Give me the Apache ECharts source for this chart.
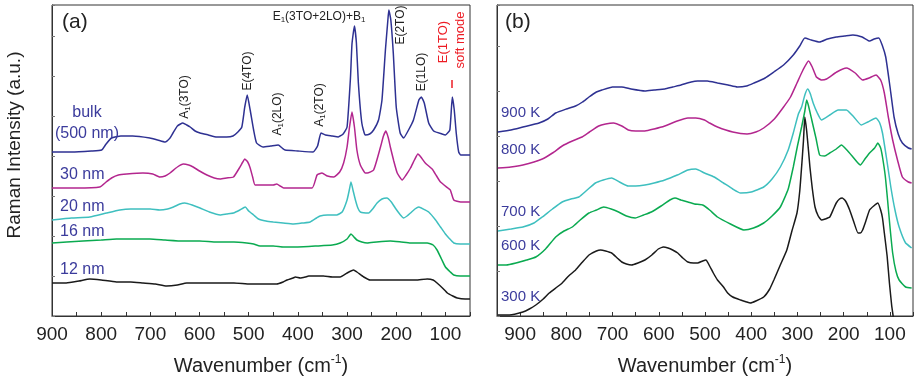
<!DOCTYPE html>
<html><head><meta charset="utf-8">
<script src="https://cdn.jsdelivr.net/npm/echarts@6/dist/echarts.min.js"></script>
<style>html,body{margin:0;padding:0;background:#fff}#c{width:916px;height:384px}</style>
</head><body><div id="c"></div>
<script>
// ---------- Panel (a): size dependence (wavenumber cm-1, offset intensity) ----------
const bulkX = [900,860,820,799,790,779,760,736,701,685,670,660,654,645,634,626,619,609,599,582,565,545,532,522,514,508,503,497,490,484,471,455,440,432,426,400,369,360,353,344,330,318,308,300,293,290,285,281,277,270,263,254,246,236,229,222,217,215,211,206,200,192,185,175,165,154,149,143,134,124,107,100,91,86,82,78,73,69,50];
const bulkY = [164,164,165,166,172,178,180,180,178,176,174,178,183,190,193,191,189,185,183,181,179,179,180,184,189,209,221,206,186,173,169,170,171,168,166,165,164,170,183,181,180,179,182,189,239,272,290,273,233,193,181,182,186,196,216,266,296,306,296,263,209,183,178,186,196,216,219,213,193,185,182,181,186,219,206,183,164,161,161];
const nm30X = [900,850,803,790,779,765,748,715,695,681,670,660,645,633,622,613,600,585,570,558,545,531,519,512,508,502,497,492,487,463,450,443,436,429,371,361,351,340,327,315,307,300,295,290,285,280,273,263,259,246,232,226,221,216,212,205,198,188,180,171,163,156,150,141,127,118,110,95,90,83,69,50];
const nm30Y = [128,128,129,134,138,141,142,143,142,139,140,143,149,152,151,149,145,141,138,137,138,139,148,154,157,154,148,139,131,131,131,132,130,128,128,141,143,140,139,144,153,169,189,204,189,166,151,143,143,146,169,180,185,178,169,155,143,136,141,148,156,162,159,153,147,140,134,128,126,116,114,114];
const nm20X = [900,860,823,789,762,740,721,700,681,665,653,640,630,615,599,580,558,545,531,518,507,500,490,480,465,450,430,409,390,375,362,355,340,321,310,300,295,292,288,283,278,273,256,248,239,229,219,210,202,193,185,178,171,162,154,145,134,120,110,100,93,83,70,50];
const nm20Y = [96,98,99,103,106,107,107,107,106,107,109,112,113,111,108,104,101,102,103,106,109,105,101,97,95,94,93,92,93,94,98,100,101,101,104,116,127,134,126,116,108,104,103,107,113,117,118,114,108,102,98,100,103,107,109,107,104,96,89,82,78,73,72,72];
const nm16X = [900,870,837,800,769,735,701,670,633,600,565,530,504,490,477,450,429,400,361,330,314,300,292,286,280,270,259,240,212,190,171,150,137,125,117,108,100,90,83,70,50];
const nm16Y = [73,74,75,76,77,77,77,76,75,75,74,74,73,72,70,70,69,69,70,71,73,77,82,79,76,74,73,74,75,74,73,73,73,71,66,57,49,44,41,40,40];
const nm12X = [900,871,845,823,800,769,740,715,690,667,645,626,600,565,530,497,460,443,430,422,410,405,395,385,378,365,348,330,314,300,287,280,266,253,230,192,160,137,125,117,106,96,85,76,60,50];
const nm12Y = [33,33,35,37,36,34,34,33,32,30,31,33,33,33,33,32,32,32,34,36,38,39,38,39,40,40,40,39,39,43,46,44,39,36,36,36,36,37,36,33,28,23,20,18,17,17];

// ---------- Panel (b): temperature dependence ----------
const k900X = [948,920,894,859,840,823,800,780,765,751,735,723,700,680,660,630,610,587,570,552,530,516,495,473,450,430,410,394,370,351,330,309,295,284,270,252,235,216,198,180,160,144,134,124,116,109,100,91,82,73,60,53];
const k900Y = [184,186,189,193,197,203,207,210,214,219,224,226,229,229,227,225,226,227,229,231,234,235,235,233,231,229,230,233,238,244,251,261,270,278,276,274,277,279,280,281,279,275,277,278,270,259,230,199,182,173,168,167];
const k800X = [948,920,894,852,830,809,787,766,750,730,715,698,680,666,650,630,610,587,560,537,520,501,490,473,440,409,390,373,350,330,315,301,288,276,268,259,248,237,215,194,175,159,145,130,120,112,103,94,83,73,60,53];
const k800Y = [148,149,151,157,163,170,175,179,184,190,192,193,190,186,185,185,187,190,195,198,198,196,193,189,184,182,184,188,197,209,219,233,246,255,249,239,236,237,244,248,243,236,238,241,236,223,198,176,155,139,134,133];
const k700X = [948,920,894,870,852,830,809,790,773,755,737,720,702,685,666,650,630,610,587,560,537,520,501,480,460,440,423,400,373,355,337,320,309,298,291,284,278,272,266,257,248,230,212,194,178,162,148,130,122,116,107,98,89,80,66,53];
const k700Y = [85,87,89,93,99,107,114,117,119,126,133,136,138,134,130,130,131,133,136,141,146,147,143,139,133,127,123,124,129,137,149,166,183,202,209,221,227,222,213,203,196,201,206,206,199,191,194,198,193,183,157,129,106,89,73,68];
const k600X = [948,930,909,886,866,845,823,805,787,770,751,735,719,703,687,670,651,633,616,595,576,565,552,537,523,505,490,473,445,416,395,373,355,337,320,309,300,291,284,280,276,269,260,252,241,230,216,205,193,180,171,164,154,144,133,126,120,116,110,105,100,94,87,80,66,53];
const k600Y = [51,51,53,56,59,67,79,85,89,96,103,106,109,107,104,100,98,101,104,110,116,118,116,114,112,111,106,99,92,86,88,93,100,109,127,149,170,189,205,216,210,196,178,161,160,163,167,171,166,159,154,151,157,163,168,173,168,159,140,116,90,63,45,36,29,28];
const k300X = [948,923,894,880,866,850,837,820,809,795,780,765,751,735,726,715,702,690,680,670,659,645,630,615,601,590,580,570,559,548,537,525,516,505,498,490,482,473,460,451,440,423,410,402,390,373,360,351,338,323,312,301,295,291,287,284,280,276,273,268,262,255,248,240,230,222,216,209,203,196,187,178,169,164,159,152,144,135,126,120,116,112,106,101,96,93,90];
const k300Y = [1,1,4,7,11,17,23,29,33,40,46,54,61,65,66,65,63,58,54,52,51,53,56,61,67,69,68,66,63,58,54,53,53,55,56,50,43,36,29,23,19,16,14,13,15,19,27,36,50,66,85,103,125,149,175,199,185,165,149,128,109,100,96,97,99,107,113,117,118,115,106,94,83,83,86,95,106,110,113,106,98,83,60,33,10,0,-15];

const xTicksA = [900,800,700,600,500,400,300,200,100];
const xTicksB = [900,800,700,600,500,400,300,200,100];
const labelsA = ['bulk','(500 nm)','30 nm','20 nm','16 nm','12 nm'];
const labelsB = ['900 K','800 K','700 K','600 K','300 K'];

const C = {blue:'#2e3192', mag:'#b3268e', cyan:'#3ebfbf', green:'#0aaa50', black:'#1a1a1a'};
const FONT = 'Liberation Sans, Arial, sans-serif';
const zip = (xs, ys) => xs.map((x, i) => [x, ys[i]]);

function line(name, xs, ys, color, idx) {
  return {name, type:'line', xAxisIndex:idx, yAxisIndex:idx, data:zip(xs, ys),
    showSymbol:false, smooth:0.15, lineStyle:{color, width:1.5}, itemStyle:{color},
    silent:true, animation:false, clip:true, z:3};
}

function xAxis(idx, min, max, ticks) {
  return {type:'value', gridIndex:idx, inverse:true, min, max, interval:50,
    axisLine:{show:true, onZero:false, lineStyle:{color:'#333', width:1}},
    axisTick:{show:true, inside:true, length:4, lineStyle:{color:'#333'}},
    axisLabel:{show:true, margin:9, fontSize:19, color:'#222', fontFamily:FONT,
      formatter: v => ticks.includes(v) ? String(v) : ''},
    splitLine:{show:false},
    name:'Wavenumber (cm{sup|-1})', nameLocation:'middle', nameGap:38,
    nameTextStyle:{fontSize:20, color:'#222', fontFamily:FONT, lineHeight:24,
      rich:{sup:{fontSize:12, lineHeight:12, verticalAlign:'top', color:'#222', fontFamily:FONT}}}};
}
function yAxis(idx, interval) {
  return {type:'value', gridIndex:idx, min:0, max:311, interval,
    axisLine:{show:true, lineStyle:{color:'#333', width:1}},
    axisTick:{show:true, inside:true, length:3, lineStyle:{color:'#777'}},
    axisLabel:{show:false}, splitLine:{show:false}};
}

function rot(x, y, text, color, size) {
  return {type:'text', x, y, rotation:Math.PI/2, z:10,
    style:{text, fill:color||'#222', font:(size||12)+'px '+FONT, textAlign:'center', textVerticalAlign:'middle',
      rich:{n:{fontSize:size||12, lineHeight:14, fontFamily:FONT, fill:color||'#222'},
            s:{fontSize:8, lineHeight:8, verticalAlign:'bottom', fontFamily:FONT, fill:color||'#222'}}}};
}
function txt(x, y, text, size, color, align) {
  return {type:'text', x, y, z:10, style:{text, fill:color||'#3b3b9c', font:size+'px '+FONT,
    textAlign:align||'left', textVerticalAlign:'middle'}};
}

const LBL = '#3b3b9c';
const option = {
  backgroundColor:'#fff', animation:false,
  grid:[
    {left:52, top:5, width:418, height:311, show:true, borderColor:'#333', borderWidth:1, containLabel:false},
    {left:497, top:5, width:420, height:311, show:true, borderColor:'#333', borderWidth:1, containLabel:false}
  ],
  xAxis:[xAxis(0, 50, 900, xTicksA), xAxis(1, 50, 950, xTicksB)],
  yAxis:[yAxis(0, 40), yAxis(1, 45)],
  series:[
    line('bulk', bulkX, bulkY, C.blue, 0),
    line('30 nm', nm30X, nm30Y, C.mag, 0),
    line('20 nm', nm20X, nm20Y, C.cyan, 0),
    line('16 nm', nm16X, nm16Y, C.green, 0),
    line('12 nm', nm12X, nm12Y, C.black, 0),
    line('900 K', k900X, k900Y, C.blue, 1),
    line('800 K', k800X, k800Y, C.mag, 1),
    line('700 K', k700X, k700Y, C.cyan, 1),
    line('600 K', k600X, k600Y, C.green, 1),
    line('300 K', k300X, k300Y, C.black, 1)
  ],
  graphic:[
    {type:'text', x:15, y:145, rotation:Math.PI/2, z:10,
      style:{text:'Raman Intensity (a.u.)', fill:'#222', font:'19px '+FONT, textAlign:'center', textVerticalAlign:'middle'}},
    txt(62, 22, '(a)', 21, '#222'),
    txt(505, 22, '(b)', 21, '#222'),
    txt(87, 113, labelsA[0], 16, LBL, 'center'),
    txt(87, 134, labelsA[1], 16, LBL, 'center'),
    txt(60, 175, labelsA[2], 16, LBL),
    txt(60, 207, labelsA[3], 16, LBL),
    txt(60, 232, labelsA[4], 16, LBL),
    txt(60, 270, labelsA[5], 16, LBL),
    txt(501, 113, labelsB[0], 15, LBL),
    txt(501, 150, labelsB[1], 15, LBL),
    txt(501, 212, labelsB[2], 15, LBL),
    txt(501, 246, labelsB[3], 15, LBL),
    txt(501, 297, labelsB[4], 15, LBL),
    rot(185, 97, '{n|A}{s|1}{n|(3TO)}'),
    rot(248, 71, '{n|E(4TO)}'),
    rot(278, 114, '{n|A}{s|1}{n|(2LO)}'),
    rot(320, 105, '{n|A}{s|1}{n|(2TO)}'),
    rot(401, 25, '{n|E(2TO)}'),
    rot(422, 72, '{n|E(1LO)}'),
    rot(443, 42, '{n|E(1TO)}', '#ed1c24', 13),
    rot(460, 40, '{n|soft mode}', '#ed1c24', 13),
    {type:'text', x:319, y:17, z:10, style:{text:'{n|E}{s|1}{n|(3TO+2LO)+B}{s|1}', textAlign:'center', textVerticalAlign:'middle',
      rich:{n:{fontSize:12, lineHeight:14, fontFamily:FONT, fill:'#222'}, s:{fontSize:8, lineHeight:8, verticalAlign:'bottom', fontFamily:FONT, fill:'#222'}}}},
    {type:'line', z:10, shape:{x1:452, y1:80, x2:452, y2:88}, style:{stroke:'#ed1c24', lineWidth:1.5}}
  ]
};
const chart = echarts.init(document.getElementById('c'), null, {renderer:'canvas'});
chart.setOption(option);
</script></body></html>
